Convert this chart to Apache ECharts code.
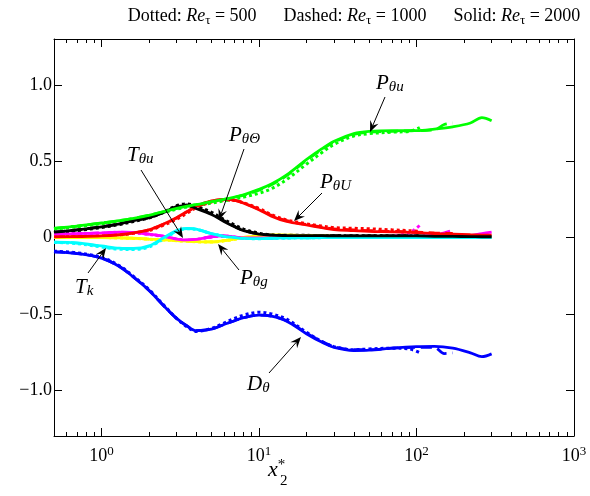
<!DOCTYPE html>
<html><head><meta charset="utf-8">
<script src="https://cdn.jsdelivr.net/npm/echarts@6/dist/echarts.min.js"></script>
<style>html,body{margin:0;padding:0;background:#fff}#c{width:590px;height:496px}</style>
</head><body><div id="c"></div>
<script>
// ---- data ----
const xSolid  = [0.5,0.7,1,1.3,1.6,2,2.5,3,3.5,4,5,6,7,8,10,12,15,20,25,30,40,50,70,100,130,170,220,260,300];
const xDashed = [0.5,0.7,1,1.3,1.6,2,2.5,3,3.5,4,5,6,7,8,10,12,15,20,25,30,40,50,70,100,130,150,170];
const xDotted = [0.5,0.7,1,1.3,1.6,2,2.5,3,3.5,4,5,6,7,8,10,12,15,20,25,30,40,50,70,90,105];

const greenSolid  = [0.06,0.075,0.095,0.11,0.125,0.145,0.17,0.19,0.205,0.215,0.235,0.25,0.265,0.28,0.315,0.35,0.41,0.51,0.58,0.63,0.68,0.695,0.70,0.70,0.71,0.725,0.75,0.785,0.765];
const greenDashed = [0.06,0.075,0.095,0.11,0.125,0.145,0.17,0.19,0.205,0.215,0.235,0.25,0.262,0.277,0.31,0.345,0.405,0.505,0.575,0.625,0.675,0.69,0.695,0.70,0.705,0.74,0.75];
const greenDotted = [0.055,0.07,0.09,0.105,0.12,0.14,0.165,0.185,0.2,0.21,0.225,0.24,0.252,0.265,0.29,0.32,0.38,0.48,0.555,0.61,0.665,0.68,0.69,0.695,0.72];

const blackSolid  = [0.035,0.05,0.07,0.09,0.11,0.13,0.165,0.2,0.21,0.19,0.15,0.105,0.07,0.045,0.022,0.015,0.013,0.012,0.012,0.011,0.011,0.01,0.01,0.01,0.008,0.007,0.006,0.005,0.005];
const blackDashed = [0.035,0.05,0.07,0.09,0.11,0.13,0.167,0.203,0.213,0.195,0.155,0.11,0.073,0.047,0.023,0.016,0.014,0.013,0.012,0.012,0.011,0.011,0.01,0.01,0.009,0.009,0.009];
const blackDotted = [0.03,0.045,0.065,0.085,0.105,0.128,0.168,0.208,0.22,0.205,0.165,0.118,0.082,0.055,0.028,0.018,0.015,0.014,0.013,0.012,0.012,0.012,0.012,0.012,0.012];

const redSolid  = [0.004,0.006,0.01,0.018,0.03,0.05,0.09,0.13,0.17,0.205,0.24,0.25,0.245,0.225,0.182,0.14,0.105,0.082,0.065,0.052,0.045,0.04,0.037,0.032,0.026,0.022,0.018,0.016,0.015];
const redDashed = [0.004,0.006,0.01,0.018,0.03,0.05,0.088,0.128,0.168,0.2,0.237,0.248,0.243,0.225,0.185,0.145,0.11,0.085,0.068,0.057,0.05,0.045,0.04,0.035,0.03,0.028,0.027];
const redDotted = [0.003,0.005,0.009,0.016,0.027,0.045,0.082,0.12,0.16,0.195,0.232,0.245,0.243,0.227,0.19,0.15,0.115,0.09,0.075,0.065,0.06,0.057,0.05,0.045,0.04];

const cyanSolid  = [-0.03,-0.035,-0.055,-0.07,-0.072,-0.055,0.0,0.045,0.06,0.055,0.025,0.008,0.0,-0.006,-0.008,-0.005,-0.003,-0.002,-0.001,0,0,0,0,0,0,0,0,0,0];
const cyanDashed = [-0.03,-0.037,-0.058,-0.073,-0.074,-0.058,-0.003,0.043,0.058,0.054,0.025,0.008,0.0,-0.006,-0.008,-0.005,-0.003,-0.002,-0.001,0,0,0,0,0,0,0,0];
const cyanDotted = [-0.032,-0.04,-0.062,-0.077,-0.078,-0.062,-0.008,0.04,0.057,0.053,0.025,0.008,0.0,-0.006,-0.008,-0.005,-0.003,-0.002,-0.001,0,0,0,0,0,0];

const magentaSolid  = [0.022,0.025,0.03,0.035,0.033,0.022,0.008,-0.01,-0.016,-0.013,0.005,0.01,0.004,-0.003,-0.003,-0.002,-0.001,0,0,0,0,0,0,0,0.003,0.005,0.012,0.025,0.035];
const magentaDashed = [0.022,0.025,0.03,0.035,0.033,0.022,0.008,-0.01,-0.016,-0.013,0.005,0.01,0.004,-0.003,-0.003,-0.002,-0.001,0,0,0,0,0.002,0.005,0.01,0.015,0.03,0.048];
const magentaDotted = [0.02,0.023,0.028,0.033,0.031,0.02,0.006,-0.012,-0.018,-0.014,0.004,0.009,0.003,-0.003,-0.003,-0.002,-0.001,0,0,0,0.002,0.005,0.01,0.03,0.08];

const yellowSolid  = [0,0,0,-0.002,-0.005,-0.01,-0.015,-0.02,-0.024,-0.027,-0.029,-0.02,-0.01,0,0.01,0.015,0.015,0.012,0.01,0.008,0.006,0.005,0.004,0.003,0.003,0.002,0.002,0.002,0.002];
const yellowDashed = [0,0,0,-0.002,-0.005,-0.01,-0.015,-0.02,-0.024,-0.027,-0.029,-0.021,-0.011,0,0.01,0.015,0.015,0.012,0.01,0.008,0.006,0.005,0.004,0.003,0.003,0.003,0.003];
const yellowDotted = [0,0,0,-0.003,-0.006,-0.011,-0.016,-0.021,-0.025,-0.028,-0.03,-0.022,-0.012,-0.002,0.009,0.014,0.015,0.012,0.01,0.008,0.006,0.005,0.004,0.004,0.004];

const blueSolid  = [-0.094,-0.105,-0.135,-0.19,-0.26,-0.345,-0.45,-0.53,-0.58,-0.61,-0.6,-0.57,-0.545,-0.525,-0.508,-0.515,-0.548,-0.63,-0.685,-0.72,-0.74,-0.738,-0.725,-0.715,-0.713,-0.725,-0.755,-0.78,-0.762];
const blueDashed = [-0.094,-0.105,-0.135,-0.19,-0.26,-0.345,-0.45,-0.53,-0.58,-0.61,-0.6,-0.57,-0.545,-0.525,-0.508,-0.515,-0.545,-0.625,-0.68,-0.715,-0.735,-0.735,-0.725,-0.72,-0.72,-0.76,-0.755];
const blueDotted = [-0.09,-0.1,-0.13,-0.185,-0.255,-0.34,-0.445,-0.53,-0.585,-0.615,-0.595,-0.56,-0.53,-0.508,-0.49,-0.5,-0.535,-0.62,-0.68,-0.715,-0.735,-0.73,-0.725,-0.73,-0.755];

const majorTicksX = [1,10,100,1000];
const minorTicksX = [0.6,0.7,0.8,0.9,2,3,4,5,6,7,8,9,20,30,40,50,60,70,80,90,200,300,400,500,600,700,800,900];
const ticksY = [-1,-0.5,0,0.5,1];

// ---- build ----
const FONT = '"Liberation Serif", "Times New Roman", serif';
const quantities = [
  {c:'#0000ff', s:blueSolid, d:blueDashed, o:blueDotted},
  {c:'#ffff00', s:yellowSolid, d:yellowDashed, o:yellowDotted},
  {c:'#ff00ff', s:magentaSolid, d:magentaDashed, o:magentaDotted},
  {c:'#00ffff', s:cyanSolid, d:cyanDashed, o:cyanDotted},
  {c:'#ff0000', s:redSolid, d:redDashed, o:redDotted},
  {c:'#000000', s:blackSolid, d:blackDashed, o:blackDotted},
  {c:'#00ff00', s:greenSolid, d:greenDashed, o:greenDotted}
];
const zip = (xs, ys) => xs.map((x,i)=>[x, ys[i]]);
const series = [];
const mk = (xs, ys, color, type, w) => ({
  type:'line', data: zip(xs, ys), showSymbol:false, symbol:'none', smooth:0.35,
  lineStyle:{color, width:w, type}, silent:true, animation:false, xAxisIndex:0, yAxisIndex:0
});
quantities.forEach(q=>series.push(mk(xDotted, q.o, q.c, 'dotted', 3)));
quantities.forEach(q=>series.push(mk(xDashed, q.d, q.c, 'dashed', 2.8)));
quantities.forEach(q=>series.push(mk(xSolid, q.s, q.c, 'solid', 2.8)));

const supLabel = v => '10{sup|' + Math.round(Math.log10(v)) + '}';
const lblStyle = {fontFamily:FONT, fontSize:18, color:'#000'};
const axisLineStyle = {lineStyle:{color:'#000', width:1}};

const xAxisBase = (pos, major, showLine, showLabel) => ({
  type:'log', logBase:10, min:0.5, max:1000, position:pos, gridIndex:0,
  axisLine:{show:showLine, onZero:false, ...axisLineStyle},
  axisTick:{show:true, inside:true, length: major?8:4, customValues: major?majorTicksX:minorTicksX, lineStyle:{color:'#000'}},
  axisLabel:{show:showLabel, customValues: majorTicksX, formatter:supLabel, margin:9, ...lblStyle,
    rich:{sup:{fontFamily:FONT, fontSize:13, padding:[0,0,9,0], color:'#000'}}},
  splitLine:{show:false}, minorTick:{show:false}
});

const yfmt = v => v===0 ? '0' : (v<0?'\u2212':'') + Math.abs(v).toFixed(1);
const yAxisBase = (pos, showLabel) => ({
  type:'value', min:-1.3, max:1.3, position:pos,
  axisLine:{show:true, onZero:false, ...axisLineStyle},
  axisTick:{show:true, inside:true, length:8, customValues:ticksY, lineStyle:{color:'#000'}},
  axisLabel:{show:showLabel, customValues:ticksY, formatter:yfmt, margin:2, ...lblStyle},
  splitLine:{show:false}
});

const chart = echarts.init(document.getElementById('c'), null, {renderer:'canvas'});

// annotations (layout in pixels)
const IT = {fontFamily:FONT, fontStyle:'italic', fontSize:21, color:'#000'};
const SUB = {fontFamily:FONT, fontStyle:'italic', fontSize:15, color:'#000', padding:[9,0,0,0]};
const annotations = [
  {t:'{m|P}{s|\u03b8u}', x:376, y:71, from:[385,97], to:[370,132]},
  {t:'{m|P}{s|\u03b8\u0398}', x:229, y:123, from:[244,149], to:[219,220]},
  {t:'{m|P}{s|\u03b8U}', x:320, y:170, from:[322,193], to:[294,221]},
  {t:'{m|T}{s|\u03b8u}', x:127, y:143, from:[141,170], to:[183,238]},
  {t:'{m|T}{s|k}', x:75, y:275, from:[88,273], to:[106,248]},
  {t:'{m|P}{s|\u03b8g}', x:240, y:266, from:[239,270], to:[218,244]},
  {t:'{m|D}{s|\u03b8}', x:247, y:372, from:[269,373], to:[301,337]}
];
const graphics = [];
annotations.forEach(a=>{
  graphics.push({type:'text', x:a.x, y:a.y, z:100, style:{text:a.t, align:'left', verticalAlign:'top', rich:{m:IT, s:SUB}}});
  const [x1,y1]=a.from, [x2,y2]=a.to;
  const dx=x2-x1, dy=y2-y1, L=Math.hypot(dx,dy), ux=dx/L, uy=dy/L, px=-uy, py=ux;
  const hl=11, hw=4.5, notch=7;
  const bx=x2-ux*hl, by=y2-uy*hl, nx=x2-ux*notch, ny=y2-uy*notch;
  graphics.push({type:'line', z:100, shape:{x1, y1, x2:nx, y2:ny}, style:{stroke:'#000', lineWidth:1}});
  graphics.push({type:'polygon', z:100, shape:{points:[[x2,y2],[bx+px*hw,by+py*hw],[nx,ny],[bx-px*hw,by-py*hw]]}, style:{fill:'#000'}});
});
// header
const HS = {fontFamily:FONT, fontSize:18, color:'#000'};
const HI = {fontFamily:FONT, fontSize:18, fontStyle:'italic', color:'#000'};
const HSUB = {fontFamily:FONT, fontSize:13, color:'#000', padding:[8,0,0,0]};
graphics.push({type:'text', x:354, y:6, z:100, style:{
  text:'{n|Dotted: }{i|Re}{s|\u03c4}{n| = 500      Dashed: }{i|Re}{s|\u03c4}{n| = 1000      Solid: }{i|Re}{s|\u03c4}{n| = 2000}',
  align:'center', verticalAlign:'top', rich:{n:HS, i:HI, s:HSUB}}});
// x axis name
graphics.push({type:'text', x:268, y:458, z:100, style:{
  text:'{x|x}{u|*}', align:'left', verticalAlign:'top', rich:{x:{...IT, fontSize:22}, u:{fontFamily:FONT, fontSize:15, color:'#000', padding:[0,0,10,0]}}}});
graphics.push({type:'text', x:280, y:474, z:100, style:{text:'2', fontFamily:FONT, fontSize:15, fill:'#000', align:'left', verticalAlign:'top'}});

chart.setOption({
  animation:false,
  backgroundColor:'#fff',
  grid:{left:54, right:16, top:39, bottom:60, containLabel:false},
  xAxis:[xAxisBase('bottom',true,true,true), xAxisBase('bottom',false,false,false), xAxisBase('top',true,true,false), xAxisBase('top',false,false,false)],
  yAxis:[yAxisBase('left',true), yAxisBase('right',false)],
  series,
  graphic:graphics
});
</script>
</body></html>
